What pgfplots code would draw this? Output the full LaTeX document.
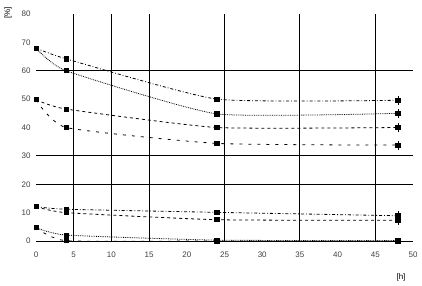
\documentclass[border=0pt]{standalone}
\usepackage{fontspec}
\setmainfont{Liberation Sans}
\usepackage{pgfplots}
\pgfplotsset{compat=1.18}
\begin{document}
\begin{tikzpicture}[x=1pt,y=1pt]
\useasboundingbox (0,0) rectangle (422,285);
\begin{axis}[
  at={(36pt,44pt)}, anchor=origin,
  scale only axis, width=377pt, height=227pt,
  xmin=0, xmax=50, ymin=0, ymax=80,
  xtick={0,5,...,50}, ytick={0,10,...,80},
  axis line style={draw=none},
  major tick length=0pt,
  tick label style={font=\footnotesize, text=black!75},
  xticklabel style={yshift=-7pt},
  yticklabel style={xshift=-2pt},
  /pgf/number format/assume math mode=true,
  extra x ticks={5,10,15,25,35,45}, extra x tick labels={},
  extra y ticks={0,20,30,60}, extra y tick labels={},
  extra tick style={grid=major, major grid style={black, line width=0.9pt}},
  clip=false,
  every axis plot/.append style={black, line width=0.8pt, mark=square*, mark size=2.1pt, mark options={solid}, smooth, tension=0.3},
]
% upper group
\addplot[dash dot] coordinates {(0,68) (4,64.2) (24,50) (48,49.6)};
\addplot[densely dotted] coordinates {(0,68) (4,60) (24,44.8) (48,45)};
\addplot[dashed] coordinates {(0,49.8) (4,46.5) (24,40) (48,40)};
\addplot[loosely dashed] coordinates {(0,49.8) (4,40) (24,34.4) (48,33.8)};
% lower group
\addplot[dash dot] coordinates {(0,12.1) (4,11.2) (24,10.1) (48,8.9)};
\addplot[dashed] coordinates {(0,12.1) (4,10) (24,7.5) (48,7.3)};
\addplot[densely dotted] coordinates {(0,4.7) (4,2.1) (24,0.3) (48,0.2)};
\addplot[loosely dashed] coordinates {(0,4.7) (4,0.1) (24,0) (48,0)};
% error bars at 48 h
\addplot[draw=none, mark=none, smooth=false, error bars/.cd, y dir=both, y explicit, error mark=none, error bar style={black, line width=0.6pt}]
  coordinates {(48,49.6) +- (0,1.6) (48,45) +- (0,1.6) (48,40) +- (0,1.6) (48,33.8) +- (0,1.6) (48,8.9) +- (0,1.6) (48,7.3) +- (0,1.6)};
\end{axis}
\node[rotate=90, font=\footnotesize] at (8,272) {[\%]};
\node[font=\footnotesize] at (401,8) {[h]};
\end{tikzpicture}
\end{document}
